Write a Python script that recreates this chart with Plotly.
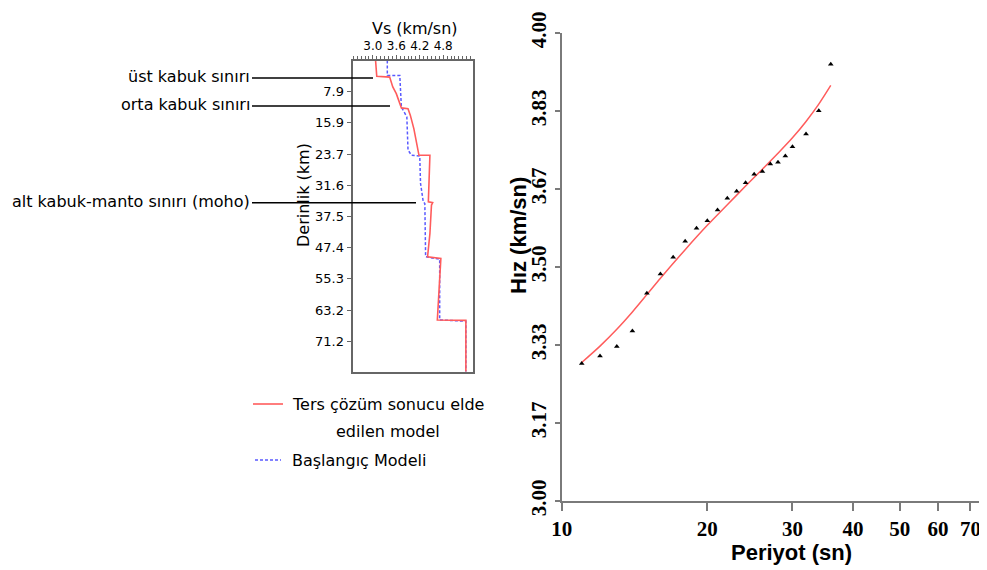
import plotly.graph_objects as go

W, H = 987, 570
OFF = 8  # the page body adds an 8px margin; positions below are in screen pixels

# ---------------- data: left panel (velocity-depth profiles) ----------------
inv_vs = [3.07, 3.10, 3.43, 3.51, 3.60, 3.69, 3.73, 3.90, 3.96, 4.05, 4.12, 4.18, 4.46, 4.44, 4.42,
          4.53, 4.50, 4.46, 4.40, 4.74, 4.71, 4.65, 5.38, 5.38]
inv_depth = [0, 4.0, 4.2, 6.7, 8.4, 10.9, 12.0, 12.2, 13.9, 17.3, 20.6, 24.0, 24.0, 31.1, 35.8,
             36.0, 36.6, 43.8, 49.7, 50.1, 56.4, 65.7, 65.8, 78.8]
start_vs = [3.37, 3.37, 3.69, 3.73, 3.87, 3.90, 3.99, 4.20, 4.22, 4.29, 4.33, 4.35, 4.35, 4.71, 4.71, 5.38, 5.38]
start_depth = [0, 3.8, 3.8, 11.8, 14.3, 22.7, 24.0, 24.2, 31.1, 35.8, 36.2, 43.8, 49.7, 50.3, 65.7, 66.0, 78.8]

vs_tickvals = [3.0, 3.6, 4.2, 4.8]
vs_ticktext = ["3.0", "3.6", "4.2", "4.8"]
depth_tickvals = [7.9, 15.8, 23.7, 31.6, 39.5, 47.4, 55.3, 63.2, 71.1]
depth_ticktext = ["7.9", "15.9", "23.7", "31.6", "37.5", "47.4", "55.3", "63.2", "71.2"]

boundary_labels = ["üst kabuk sınırı", "orta kabuk sınırı", "alt kabuk-manto sınırı (moho)"]
boundary_depths = [4.4, 11.5, 36.0]
boundary_line_end_px = [373, 390, 416]

# ---------------- data: right panel (dispersion curve) ----------------
obs_period = [11, 12, 13, 14, 15, 16, 17, 18, 19, 20, 21, 22, 23, 24, 25, 26, 27, 28, 29, 30, 32, 34, 36]
obs_vel = [3.294, 3.310, 3.330, 3.363, 3.444, 3.485, 3.521, 3.555, 3.583, 3.599, 3.622, 3.647, 3.662,
           3.680, 3.698, 3.704, 3.720, 3.724, 3.737, 3.757, 3.784, 3.834, 3.933]
calc_period = [11, 12, 13, 14, 15, 16, 18, 20, 22, 24, 26, 28, 30, 32, 34, 36]
calc_vel = [3.296, 3.331, 3.367, 3.404, 3.441, 3.476, 3.537, 3.589, 3.633, 3.673, 3.709, 3.743,
            3.776, 3.811, 3.848, 3.888]

per_tickvals = [10, 20, 30, 40, 50, 60, 70]
vel_tickvals = [3.0, 3.0 + 1 / 6, 3.0 + 2 / 6, 3.5, 3.0 + 4 / 6, 3.0 + 5 / 6, 4.0]
vel_ticktext = ["3.00", "3.17", "3.33", "3.50", "3.67", "3.83", "4.00"]

RED = "#ff5c5c"
BLUE = "#5a5aff"
AXC = "#7a7a7a"

def px(x):
    return (x - OFF) / W

def py(y):
    return 1 - (y - OFF) / H

fig = go.Figure()
fig.add_trace(go.Scatter(x=start_vs, y=start_depth, mode="lines", xaxis="x", yaxis="y",
                         line=dict(color=BLUE, width=1.5, dash="3px,2px"), name="Başlangıç Modeli"))
fig.add_trace(go.Scatter(x=inv_vs, y=inv_depth, mode="lines", xaxis="x", yaxis="y",
                         line=dict(color=RED, width=1.6), name="Ters çözüm sonucu elde edilen model"))
fig.add_trace(go.Scatter(x=calc_period, y=calc_vel, mode="lines", xaxis="x2", yaxis="y2",
                         line=dict(color=RED, width=1.5, shape="spline", smoothing=0.8), name="hesaplanan"))
fig.add_trace(go.Scatter(x=obs_period, y=obs_vel, mode="markers", xaxis="x2", yaxis="y2",
                         marker=dict(symbol="triangle-up", size=5, color="black"), name="gözlenen"))

sans = "DejaVu Sans"
fig.update_layout(
    width=W, height=H, margin=dict(l=0, r=0, t=0, b=0, pad=0, autoexpand=False),
    paper_bgcolor="white", plot_bgcolor="white", showlegend=False,
    xaxis=dict(domain=[px(353.3), px(473.3)], range=[2.5, 5.57], side="top", anchor="y", automargin=False,
               showgrid=False, zeroline=False, showline=True, mirror=True, linecolor="#666", linewidth=1.5,
               tickvals=vs_tickvals, ticktext=vs_ticktext, ticks="outside", ticklen=4, tickcolor="#666",
               minor=dict(dtick=0.1, ticks="outside", ticklen=3, tickcolor="#666"),
               tickfont=dict(family=sans, size=12, color="black")),
    yaxis=dict(domain=[py(371.7), py(60.5)], range=[78.8, 0], anchor="x", automargin=False,
               showgrid=False, zeroline=False, showline=True, mirror=True, linecolor="#666", linewidth=1.5,
               tickvals=depth_tickvals, ticktext=depth_ticktext, ticks="outside", ticklen=5, tickcolor="#666",
               tickfont=dict(family=sans, size=13, color="black")),
    xaxis2=dict(domain=[px(561.7), px(987)], type="log", range=[1.0, 1.8793], anchor="y2", automargin=False,
                showgrid=False, zeroline=False, showline=True, linecolor=AXC, linewidth=2,
                tickvals=per_tickvals, ticks="outside", ticklen=8, tickwidth=2, tickcolor=AXC,
                tickfont=dict(family="Liberation Serif", size=21, color="black", weight="bold")),
    yaxis2=dict(domain=[py(501), py(33)], range=[3.0, 4.0], anchor="x2", automargin=False,
                showgrid=False, zeroline=False, showline=True, linecolor=AXC, linewidth=2,
                tickvals=vel_tickvals, ticktext=vel_ticktext, tickangle=-90,
                ticks="outside", ticklen=5, tickwidth=2, tickcolor=AXC,
                tickfont=dict(family="Liberation Serif", size=21, color="black", weight="bold")),
)

ann = []
# left panel titles
ann.append(dict(x=px(415), y=py(28), xref="paper", yref="paper", text="Vs (km/sn)", showarrow=False,
                font=dict(family=sans, size=16, color="black"), xanchor="center", yanchor="middle"))
ann.append(dict(x=px(303), y=py(195), xref="paper", yref="paper", text="Derinlik (km)", showarrow=False,
                textangle=-90, font=dict(family=sans, size=16, color="black"), xanchor="center", yanchor="middle"))
# right panel titles
ann.append(dict(x=px(791), y=py(552), xref="paper", yref="paper", text="Periyot (sn)", showarrow=False,
                font=dict(family="Liberation Sans", size=22, color="black", weight="bold"),
                xanchor="center", yanchor="middle"))
ann.append(dict(x=px(518), y=py(236), xref="paper", yref="paper", text="Hız (km/sn)", showarrow=False,
                textangle=-90, font=dict(family="Liberation Sans", size=22, color="black", weight="bold"),
                xanchor="center", yanchor="middle"))

shapes = []
# boundary labels with leader lines
for lab, d, xe in zip(boundary_labels, boundary_depths, boundary_line_end_px):
    ann.append(dict(x=px(252), y=d, xref="paper", yref="y", text=lab, showarrow=False,
                    font=dict(family=sans, size=16, color="black"), xanchor="right", yanchor="middle",
                    xshift=0, yshift=1))
    shapes.append(dict(type="line", xref="paper", yref="y", x0=px(252), x1=px(xe), y0=d, y1=d,
                       line=dict(color="black", width=1.5)))

# manual legend
shapes.append(dict(type="line", xref="paper", yref="paper", x0=px(253), x1=px(283), y0=py(404), y1=py(404),
                   line=dict(color=RED, width=1.6)))
shapes.append(dict(type="line", xref="paper", yref="paper", x0=px(255), x1=px(281), y0=py(460), y1=py(460),
                   line=dict(color=BLUE, width=1.5, dash="3px,2px")))
ann.append(dict(x=px(290), y=py(404), xref="paper", yref="paper", text="Ters çözüm sonucu elde",
                showarrow=False, font=dict(family=sans, size=16, color="black"), xanchor="left", yanchor="middle"))
ann.append(dict(x=px(388), y=py(431), xref="paper", yref="paper", text="edilen model",
                showarrow=False, font=dict(family=sans, size=16, color="black"), xanchor="center", yanchor="middle"))
ann.append(dict(x=px(290), y=py(460), xref="paper", yref="paper", text="Başlangıç Modeli",
                showarrow=False, font=dict(family=sans, size=16, color="black"), xanchor="left", yanchor="middle"))

fig.update_layout(annotations=ann, shapes=shapes)
fig.write_html("out.html")
